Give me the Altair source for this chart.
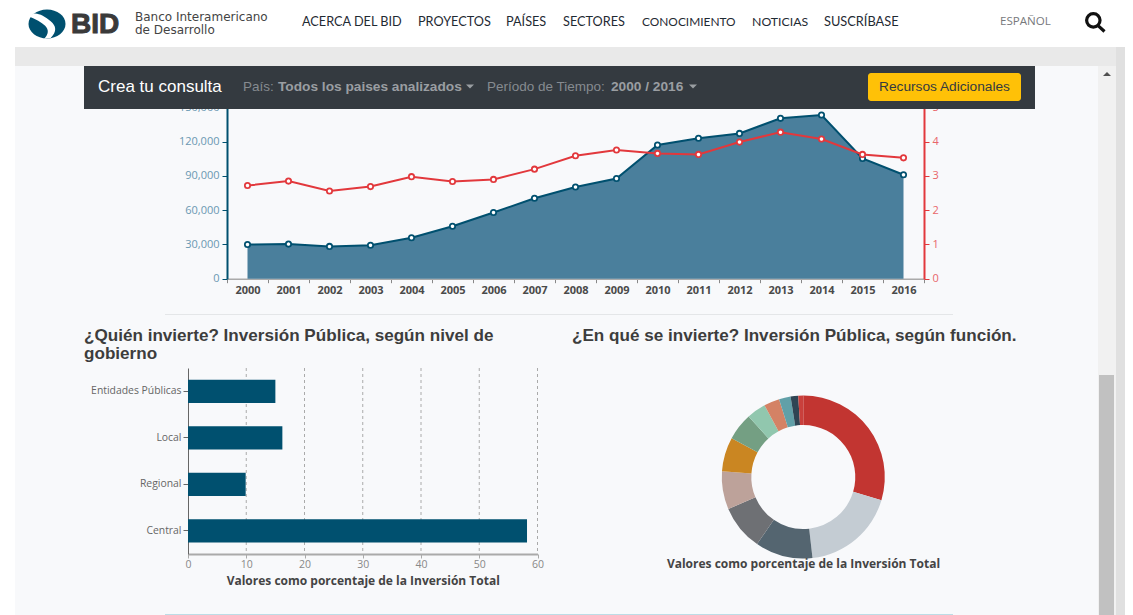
import math
import altair as alt
import pandas as pd

years = [str(y) for y in range(2000, 2017)]
inversion = [30000, 30300, 28300, 29300, 35900, 46000, 58000, 70500, 80300, 87800, 117200, 123000, 127300, 140500, 143400, 105300, 91100]
porcentaje_pib = [2.72, 2.85, 2.56, 2.69, 2.98, 2.84, 2.90, 3.20, 3.59, 3.76, 3.66, 3.63, 3.99, 4.28, 4.08, 3.63, 3.53]
niveles = ["Entidades Públicas", "Local", "Regional", "Central"]
nivel_valores = [15.0, 16.2, 9.9, 58.2]
funcion_ids = list("abcdefghijkl")
funcion_valores = [29.6, 18.6, 11.4, 9.0, 7.5, 6.8, 5.4, 3.8, 3.1, 2.3, 1.5, 1.0]
funcion_colores = ["#c23531", "#c4ccd3", "#546570", "#6e7074", "#bda29a", "#ca8622", "#749f83", "#91c7ae", "#d48265", "#61a0a8", "#2f4554", "#c9403c"]
nav_labels = ["ACERCA DEL BID", "PROYECTOS", "PAÍSES", "SECTORES", "CONOCIMIENTO", "NOTICIAS", "SUSCRÍBASE"]
left_ticks = [0, 30000, 60000, 90000, 120000, 150000]
right_ticks = [0, 1, 2, 3, 4, 5]
bar_ticks = [0, 10, 20, 30, 40, 50, 60]

W, H = 1117, 607
OX, OY = 8, 8
BLUE = "#00506f"
RED = "#e2383c"
blank = alt.Data(values=[{"a": 1}])
SANS = "Liberation Sans"
OPEN = "Open Sans"


def px(v):
    return v - OX


def py(v):
    return v - OY


def rect(x1, y1, x2, y2, color, **kw):
    return alt.Chart(blank).mark_rect(color=color, **kw).encode(
        x=alt.value(px(x1)), x2=alt.value(px(x2)), y=alt.value(py(y1)), y2=alt.value(py(y2)))


def txt(t, x, y, size=12, color="#333", font=OPEN, weight="normal", align="left", **kw):
    return alt.Chart(blank).mark_text(fontSize=size, color=color, font=font, fontWeight=weight,
                                      align=align, baseline="middle", **kw).encode(
        x=alt.value(px(x)), y=alt.value(py(y)), text=alt.value(t))


def sym(path, x, y, size, **kw):
    return alt.Chart(blank).mark_point(shape=path, size=size, **kw).encode(
        x=alt.value(px(x)), y=alt.value(py(y)))


trend = pd.DataFrame({"year": years, "inv": inversion, "pct": porcentaje_pib})
bars = pd.DataFrame({"nivel": niveles, "v": nivel_valores})
grid = pd.DataFrame({"t": bar_ticks[1:]})
pie = pd.DataFrame({"id": funcion_ids, "v": funcion_valores, "o": list(range(len(funcion_ids)))})

x_rng = [px(227), px(924)]
x_scale = alt.Scale(type="band", domain=years, range=x_rng, paddingInner=0, paddingOuter=0)
yl_scale = alt.Scale(domain=[0, 150000], range=[py(278.7), py(107.5)])
yr_scale = alt.Scale(domain=[0, 5], range=[py(278.7), py(107.5)])
bx_scale = alt.Scale(domain=[0, 60], range=[px(188), px(537.5)])
by_scale = alt.Scale(type="band", domain=niveles, range=[py(368), py(554)], paddingInner=0.5, paddingOuter=0.25)

x_axis = alt.Axis(orient="bottom", offset=py(278.7) - H, tickBand="extent", labelAngle=0, title=None,
                  domainColor="#aaaaaa", tickColor="#888888", tickSize=4, domainWidth=1.5,
                  labelFont=OPEN, labelFontSize=11, labelFontWeight="bold", labelColor="#4a4a4a", labelPadding=2)
yl_axis = alt.Axis(orient="left", offset=-px(227), values=left_ticks, labelExpr="format(datum.value, ',')", title=None, grid=False,
                   domainColor=BLUE, domainWidth=2, tickColor=BLUE, tickSize=5, labelFlush=False,
                   labelFont=OPEN, labelFontSize=11, labelColor="#6a98b2", labelPadding=3)
yr_axis = alt.Axis(orient="right", offset=px(924) - W, values=right_ticks, format="d", title=None, grid=False,
                   domainColor=RED, domainWidth=2, tickColor=RED, tickSize=5, labelFlush=False,
                   labelFont=OPEN, labelFontSize=11, labelColor="#e8666a", labelPadding=3)
bx_axis = alt.Axis(orient="bottom", offset=py(554) - H, values=bar_ticks, grid=False, labelFlush=False,
                   title="Valores como porcentaje de la Inversión Total",
                   titleFont=OPEN, titleFontSize=12, titleFontWeight="bold", titleColor="#444444", titlePadding=6,
                   domainColor="#aaaaaa", domainWidth=2, tickColor="#aaaaaa", tickSize=4,
                   labelFont=OPEN, labelFontSize=10.5, labelColor="#888888", labelPadding=1)
by_axis = alt.Axis(orient="left", offset=-px(188), title=None, grid=False,
                   domainColor="#666666", domainWidth=1, tickColor="#666666", tickSize=5,
                   labelFont=OPEN, labelFontSize=10.4, labelColor="#666666", labelPadding=2)

area = alt.Chart(trend).mark_area(color="#4a7f9c", opacity=1).encode(
    x=alt.X("year:N", scale=x_scale, axis=x_axis),
    y=alt.Y("inv:Q", scale=yl_scale, axis=yl_axis))
blue_line = alt.Chart(trend).mark_line(color=BLUE, strokeWidth=2).encode(
    x=alt.X("year:N", scale=x_scale, axis=None), y=alt.Y("inv:Q", scale=yl_scale, axis=None))
blue_pts = alt.Chart(trend).mark_point(filled=True, fill="#ffffff", stroke=BLUE, strokeWidth=1.8, size=28, opacity=1).encode(
    x=alt.X("year:N", scale=x_scale, axis=None), y=alt.Y("inv:Q", scale=yl_scale, axis=None))
red_line = alt.Chart(trend).mark_line(color=RED, strokeWidth=2).encode(
    x=alt.X("year:N", scale=x_scale, axis=None),
    y=alt.Y("pct:Q", scale=yr_scale, axis=yr_axis))
red_pts = alt.Chart(trend).mark_point(filled=True, fill="#ffffff", stroke=RED, strokeWidth=1.8, size=28, opacity=1).encode(
    x=alt.X("year:N", scale=x_scale, axis=None), y=alt.Y("pct:Q", scale=yr_scale, axis=None))

grid_rules = alt.Chart(grid).mark_rule(color="#aaaaaa", strokeDash=[3, 3], strokeWidth=1).encode(
    x=alt.X("t:Q", scale=bx_scale, axis=None), y=alt.value(py(368)), y2=alt.value(py(554)))
bar_marks = alt.Chart(bars).mark_bar(color=BLUE).encode(
    x=alt.X("v:Q", scale=bx_scale, axis=bx_axis),
    y=alt.Y("nivel:N", scale=by_scale, axis=by_axis))

donut = alt.Chart(pie).mark_arc(outerRadius=81.5, innerRadius=52).encode(
    theta=alt.Theta("v:Q", stack=True, scale=alt.Scale(domain=[0, 100], range=[0, 2 * math.pi])),
    order=alt.Order("o:Q"),
    color=alt.Color("id:N", scale=alt.Scale(domain=funcion_ids, range=funcion_colores), legend=None),
    x=alt.value(px(803.3)), y=alt.value(py(477)))

logo_disc = "M-1 0A1 .78 0 1 1 1 0A1 .78 0 1 1 -1 0Z"
logo_swoosh = "M-1 -.42C-.6 -.25 -.3 -.1 -.1 .1C.1 .3 .1 .55 -.15 .8L.2 .75C.55 .4 .5 .1 .2 -.15C-.1 -.4 -.5 -.62 -.72 -.55Z"
lupa = "M.45 -.15A.6 .6 0 1 1 -.75 -.15A.6 .6 0 1 1 .45 -.15ZM.25 .3L.85 .85"
caret_down = "M-1 -.5L1 -.5L0 .5Z"
caret_up = "M-1 .5L1 .5L0 -.5Z"

nav_x = [302, 418, 506, 563, 642, 752, 824]
nav_size = [12.7, 12.7, 12.7, 12.7, 11.9, 12.3, 12.8]
layers = [
    rect(8, 0, 1133, 47, "#ffffff"),
    rect(8, 47, 15, 615, "#ffffff"),
    rect(15, 47, 1116, 66, "#e9e9e9"),
    rect(1098, 66, 1116, 615, "#f1f1f1"),
    rect(1099, 375, 1114, 615, "#c1c1c1"),
    rect(1116, 47, 1133, 615, "#e0e0e0"),
    sym(caret_up, 1107, 74, 64, filled=True, color="#505050", opacity=1),
    area, blue_line, red_line, blue_pts, red_pts,
    grid_rules, bar_marks, donut,
    rect(165, 314, 953, 315, "#e4e6e8"),
    rect(165, 614, 953, 615, "#bcdde6"),
    rect(84, 66, 1035, 109, "#343a40"),
    txt("Crea tu consulta", 98, 87, 17, "#ffffff", SANS),
    txt("País:", 243, 87, 13.5, "#868b90", SANS),
    txt("Todos los paises analizados", 278, 87, 13.7, "#9a9ea2", SANS, "bold"),
    sym(caret_down, 470, 86.5, 64, filled=True, color="#9a9ea2", opacity=1),
    txt("Período de Tiempo:", 487, 87, 13.5, "#868b90", SANS),
    txt("2000 / 2016", 611, 87, 13.7, "#9a9ea2", SANS, "bold"),
    sym(caret_down, 693, 86.5, 64, filled=True, color="#9a9ea2", opacity=1),
    rect(868, 73, 1021, 101, "#ffc107", cornerRadius=3),
    txt("Recursos Adicionales", 944.5, 87, 13.7, "#343a40", SANS, align="center"),
    sym(logo_disc, 47, 24, 1369, filled=True, color="#00506f", opacity=1),
    sym(logo_swoosh, 47, 24, 1369, filled=True, color="#ffffff", opacity=1),
    txt("BID", 71, 24.5, 28, "#3a3a3a", SANS, "bold", stroke="#3a3a3a", strokeWidth=1),
    txt("Banco Interamericano", 135, 17.3, 12, "#444444", "DejaVu Sans"),
    txt("de Desarrollo", 135, 30, 12, "#444444", "DejaVu Sans"),
    sym(lupa, 1095, 22, 500, filled=False, stroke="#111111", strokeWidth=3.2, opacity=1),
    txt("ESPAÑOL", 1000, 22, 11.6, "#77797c", OPEN),
    txt("¿Quién invierte? Inversión Pública, según nivel de", 84, 336, 17.1, "#3d3d3d", SANS, "bold"),
    txt("gobierno", 84, 354, 17.1, "#3d3d3d", SANS, "bold"),
    txt("¿En qué se invierte? Inversión Pública, según función.", 572, 336, 17.1, "#3d3d3d", SANS, "bold"),
    txt("Valores como porcentaje de la Inversión Total", 803.5, 564, 12, "#444444", OPEN, "bold", align="center"),
]
for label, xpos, fsize in zip(nav_labels, nav_x, nav_size):
    layers.append(txt(label, xpos, 22, fsize, "#1f2a33", "Lato"))

chart = alt.layer(*layers).resolve_scale(x="independent", y="independent", theta="independent", color="independent").resolve_axis(
    x="independent", y="independent"
).properties(
    width=W, height=H, padding=0, background="#f8f9fb",
    autosize=alt.AutoSizeParams(type="none"),
).configure_view(stroke=None)

chart.save("out.html", embed_options={"renderer": "svg", "actions": False})
